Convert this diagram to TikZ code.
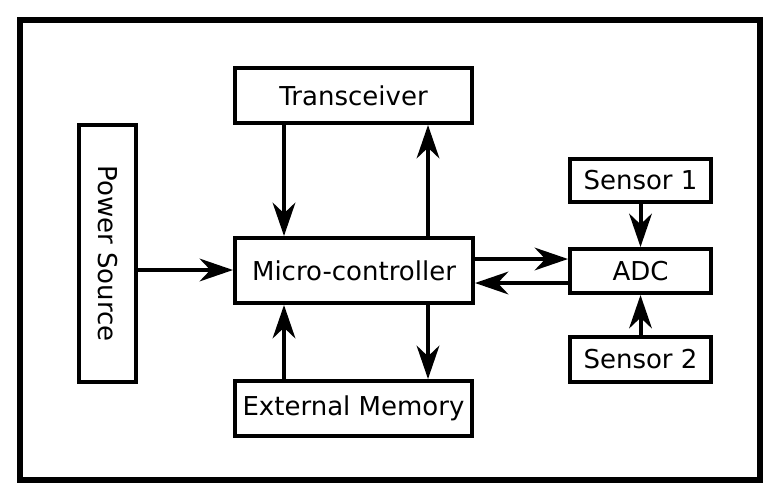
\documentclass[tikz,border=0pt]{standalone}
\usepackage{fontspec}
\setmainfont{DejaVu Sans}
\usetikzlibrary{arrows.meta}
\begin{document}
\begin{tikzpicture}[x=0.75pt,y=-0.75pt,
  box/.style={draw=black,line width=3pt,fill=white,inner sep=0pt,font=\fontsize{19.5}{22}\selectfont},
  arr/.style={line width=3pt,-{Stealth[length=25pt,width=17pt,inset=8pt]}}]
\useasboundingbox (0,0) rectangle (774,497);
\fill[white] (0,0) rectangle (774,497);
\draw[line width=4.5pt] (19.5,20) rectangle (760,480);
\node[box,minimum width=237*0.75pt,minimum height=55*0.75pt] (trans) at (353.5,95.5) {Transceiver};
\node[box,minimum width=57*0.75pt,minimum height=257*0.75pt] (power) at (107.5,253.5) {};
\node[rotate=-90,font=\fontsize{19.5}{22}\selectfont] (powertxt) at (power.center) {Power Source};
\node[box,minimum width=238*0.75pt,minimum height=65*0.75pt] (mc) at (354,270.5) {Micro-controller};
\node[box,minimum width=237*0.75pt,minimum height=55*0.75pt] (mem) at (353.5,408.5) {External Memory};
\node[box,minimum width=141*0.75pt,minimum height=43*0.75pt] (s1) at (640.5,180.5) {Sensor 1};
\node[box,minimum width=141*0.75pt,minimum height=44*0.75pt] (adc) at (640.5,271) {ADC};
\node[box,minimum width=141*0.75pt,minimum height=45*0.75pt] (s2) at (640.5,359.5) {Sensor 2};
\coordinate (xl) at (284,0);
\coordinate (xr) at (428,0);
\coordinate (yt) at (0,259);
\coordinate (yb) at (0,283);
\coordinate (yp) at (0,270);
\draw[arr] (trans.south -| xl) -- (mc.north -| xl);
\draw[arr] (mc.north -| xr) -- (trans.south -| xr);
\draw[arr] (power.east |- yp) -- (mc.west |- yp);
\draw[arr] (mem.north -| xl) -- (mc.south -| xl);
\draw[arr] (mc.south -| xr) -- (mem.north -| xr);
\draw[arr] (mc.east |- yt) -- (adc.west |- yt);
\draw[arr] (adc.west |- yb) -- (mc.east |- yb);
\draw[arr] (s1) -- (adc);
\draw[arr] (s2) -- (adc);
\end{tikzpicture}
\end{document}
